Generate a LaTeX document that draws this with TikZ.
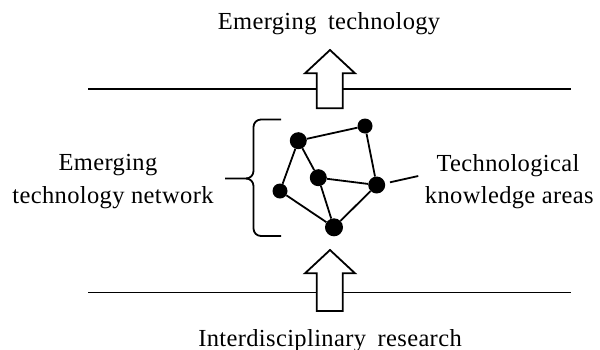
\documentclass[tikz,border=0pt]{standalone}
\usepackage{fontspec}
\setmainfont{Liberation Serif}[LetterSpace=1.5]
\begin{document}
\begin{tikzpicture}[x=1pt,y=-1pt,
  lbl/.style={font=\fontsize{24.5}{32.5}\selectfont, inner sep=0pt, align=center},
  dot/.style={circle, fill=black, inner sep=0pt},
  ln/.style={line width=1.8pt},
  arr/.style={line width=1.8pt, fill=white, line join=miter}]
\useasboundingbox (0,0) rectangle (600,349);
% horizontal lines
\coordinate (l1a) at (88,89.3); \coordinate (l1b) at (571,89.3);
\coordinate (l2a) at (88,292.5); \coordinate (l2b) at (571,292.5);
\draw[ln] (l1a) -- (l1b);
\draw[ln] (l2a) -- (l2b);
% arrows
\draw[arr] (316.7,108.3) -- (316.7,73.3) -- (305,73.3) -- (330,50) -- (355,73.3) -- (342.7,73.3) -- (342.7,108.3) -- cycle;
\draw[arr] (316.7,311) -- (316.7,273.3) -- (305,273.3) -- (330,250) -- (355,273.3) -- (342.7,273.3) -- (342.7,311) -- cycle;
% network nodes
\node[dot, minimum size=17pt] (A) at (298.3,140.7) {};
\node[dot, minimum size=15pt] (B) at (365,126) {};
\node[dot, minimum size=17pt] (C) at (318.3,177.7) {};
\node[dot, minimum size=15pt] (D) at (280,191) {};
\node[dot, minimum size=17pt] (E) at (376.7,185) {};
\node[dot, minimum size=18pt] (F) at (334,227.3) {};
\draw[ln] (A) -- (B) (A) -- (D) (A) -- (C) (B) -- (E) (C) -- (E) (C) -- (F) (D) -- (F) (E) -- (F);
% brace
\coordinate (bt) at (281,119.5);
\coordinate (bb) at (281,236);
\coordinate (tip) at (225,178.5);
\draw[ln, line join=round] (bt) -- (261,119.5) to[out=180,in=90] (253.5,127) -- (253.5,171) to[out=-90,in=0] (246,178.5) -- (tip);
\draw[ln, line join=round] (246,178.5) to[out=0,in=90] (253.5,186) -- (253.5,228.5) to[out=-90,in=180] (261,236) -- (bb);
% labels
\node[lbl, anchor=base] (top) at (329,29) {Emerging\hspace{5pt} technology};
\node[lbl, anchor=base] (bot) at (330,346.5) {Interdisciplinary\hspace{5pt} research};
\node[lbl, anchor=base] (left1) at (108,170.7) {Emerging};
\node[lbl, anchor=base] (left2) at (113,203) {technology network};
\node[lbl, anchor=base] (right1) at (508,171.7) {Technological};
\node[lbl, anchor=base] (right2) at (509.3,203) {knowledge areas};
\coordinate (kl) at (418.3,176);
\draw[ln] (390,182.3) -- (kl);
\end{tikzpicture}
\end{document}
